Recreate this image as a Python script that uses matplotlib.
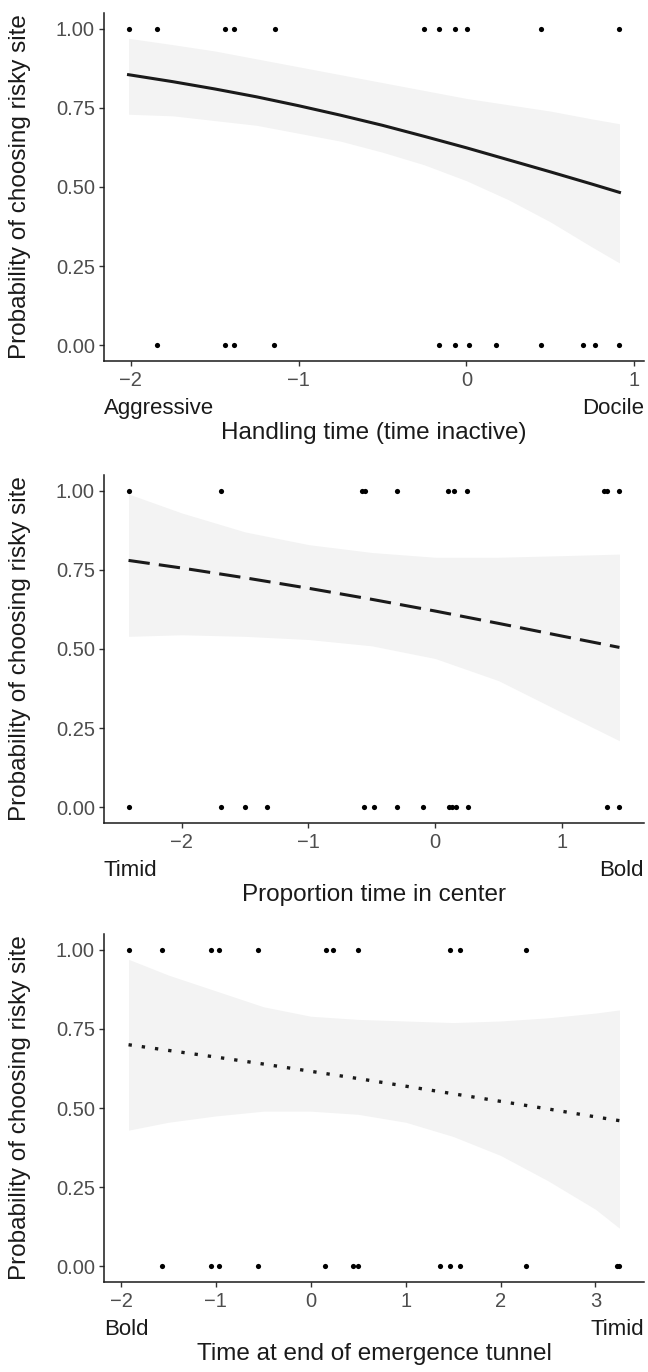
import numpy as np
import matplotlib
matplotlib.use("Agg")
import matplotlib.pyplot as plt

plt.rcParams['font.family'] = ['Liberation Sans', 'DejaVu Sans']

# panel 1 - handling time
hand_risky = [-2.013, -1.842, -1.439, -1.385, -1.143, -0.25, -0.164, -0.070, 0.006, 0.443, 0.9125]
hand_safe = [-1.842, -1.439, -1.385, -1.146, -0.162, -0.065, 0.013, 0.176, 0.443, 0.693, 0.765, 0.9125]
hand_fit_x = [-2.013, -1.75, -1.5, -1.25, -1.0, -0.75, -0.5, -0.25, 0.0, 0.25, 0.5, 0.75, 0.9125]
hand_fit = [0.855, 0.833, 0.810, 0.785, 0.757, 0.727, 0.695, 0.660, 0.624, 0.586, 0.548, 0.509, 0.483]
hand_lo = [0.73, 0.725, 0.71, 0.695, 0.67, 0.645, 0.61, 0.57, 0.52, 0.46, 0.39, 0.31, 0.26]
hand_hi = [0.97, 0.95, 0.93, 0.905, 0.88, 0.855, 0.83, 0.805, 0.78, 0.76, 0.74, 0.715, 0.70]

# panel 2 - proportion time in center
cent_risky = [-2.42, -1.69, -0.58, -0.55, -0.30, 0.10, 0.15, 0.25, 1.33, 1.36, 1.455]
cent_safe = [-2.416, -1.687, -1.503, -1.324, -0.560, -0.481, -0.299, -0.098, 0.111, 0.13, 0.166, 0.256, 1.354, 1.455]
cent_fit_x = [-2.42, -2.0, -1.5, -1.0, -0.5, 0.0, 0.5, 1.0, 1.455]
cent_fit = [0.78, 0.756, 0.725, 0.692, 0.657, 0.620, 0.581, 0.541, 0.505]
cent_lo = [0.54, 0.545, 0.54, 0.53, 0.51, 0.47, 0.40, 0.30, 0.21]
cent_hi = [0.99, 0.93, 0.87, 0.83, 0.805, 0.79, 0.79, 0.795, 0.80]

# panel 3 - emergence tunnel
tun_risky = [-1.921, -1.569, -1.052, -0.972, -0.552, 0.163, 0.236, 0.5, 1.467, 1.577, 2.265]
tun_safe = [-1.569, -1.052, -0.972, -0.552, 0.153, 0.445, 0.5, 1.359, 1.467, 1.577, 2.265, 3.226, 3.253]
tun_fit_x = [-1.921, -1.5, -1.0, -0.5, 0.0, 0.5, 1.0, 1.5, 2.0, 2.5, 3.0, 3.253]
tun_fit = [0.70, 0.682, 0.661, 0.639, 0.616, 0.593, 0.569, 0.545, 0.521, 0.497, 0.472, 0.460]
tun_lo = [0.43, 0.455, 0.475, 0.49, 0.49, 0.48, 0.455, 0.41, 0.35, 0.27, 0.18, 0.12]
tun_hi = [0.97, 0.92, 0.87, 0.82, 0.79, 0.78, 0.775, 0.77, 0.775, 0.785, 0.80, 0.81]

y_ticks = [0.0, 0.25, 0.5, 0.75, 1.0]
y_ticklabels = ['0.00', '0.25', '0.50', '0.75', '1.00']

panels = [
    dict(risky=hand_risky, safe=hand_safe, fx=hand_fit_x, fy=hand_fit, lo=hand_lo, hi=hand_hi,
         dashes=None, lw=2.2, xticks=[-2, -1, 0, 1], left='Aggressive', right='Docile',
         title='Handling time (time inactive)'),
    dict(risky=cent_risky, safe=cent_safe, fx=cent_fit_x, fy=cent_fit, lo=cent_lo, hi=cent_hi,
         dashes=(7, 3), lw=2.2, xticks=[-2, -1, 0, 1], left='Timid', right='Bold',
         title='Proportion time in center'),
    dict(risky=tun_risky, safe=tun_safe, fx=tun_fit_x, fy=tun_fit, lo=tun_lo, hi=tun_hi,
         dashes=(1, 3), lw=2.4, xticks=[-2, -1, 0, 1, 2, 3], left='Bold', right='Timid',
         title='Time at end of emergence tunnel'),
]

W, H = 648, 1372
fig = plt.figure(figsize=(W / 100, H / 100), dpi=100)
tops = [13, 475, 934]
ax_h = 348

for p, top in zip(panels, tops):
    ax = fig.add_axes([104 / W, 1 - (top + ax_h) / H, 540 / W, ax_h / H])
    ax.fill_between(p['fx'], p['lo'], p['hi'], color='#f3f3f3', lw=0, zorder=1)
    line, = ax.plot(p['fx'], p['fy'], color='#1a1a1a', lw=p['lw'], zorder=2)
    if p['dashes'] is not None:
        line.set_dashes(p['dashes'])
        line.set_dash_capstyle('butt')
    ax.scatter(p['risky'], np.ones(len(p['risky'])), s=14, color='black', lw=0, zorder=3)
    ax.scatter(p['safe'], np.zeros(len(p['safe'])), s=14, color='black', lw=0, zorder=3)
    ax.margins(x=0.05, y=0.05)

    for s in ['top', 'right']:
        ax.spines[s].set_visible(False)
    for s in ['left', 'bottom']:
        ax.spines[s].set_linewidth(1.1)
        ax.spines[s].set_color('#1a1a1a')
    ax.set_yticks(y_ticks)
    ax.set_yticklabels(y_ticklabels)
    ax.set_xticks(p['xticks'])
    ax.tick_params(labelsize=14.5, labelcolor='#4d4d4d', color='#333333',
                   length=3.5, width=1.0, pad=3)
    ax.tick_params(axis='x', pad=4)

    ax.text(-0.155, 0.5, 'Probability of choosing risky site', transform=ax.transAxes,
            rotation=90, ha='center', va='center', fontsize=17.5, color='#1a1a1a')
    ax.annotate(p['left'], xy=(0, 0), xycoords='axes fraction', xytext=(0, -34),
                textcoords='offset points', ha='left', va='center', fontsize=16, color='#1a1a1a')
    ax.annotate(p['right'], xy=(1, 0), xycoords='axes fraction', xytext=(0, -34),
                textcoords='offset points', ha='right', va='center', fontsize=16, color='#1a1a1a')
    ax.annotate(p['title'], xy=(0.5, 0), xycoords='axes fraction', xytext=(0, -52),
                textcoords='offset points', ha='center', va='center', fontsize=17.5, color='#1a1a1a')

fig.savefig('out.png', dpi=100)
